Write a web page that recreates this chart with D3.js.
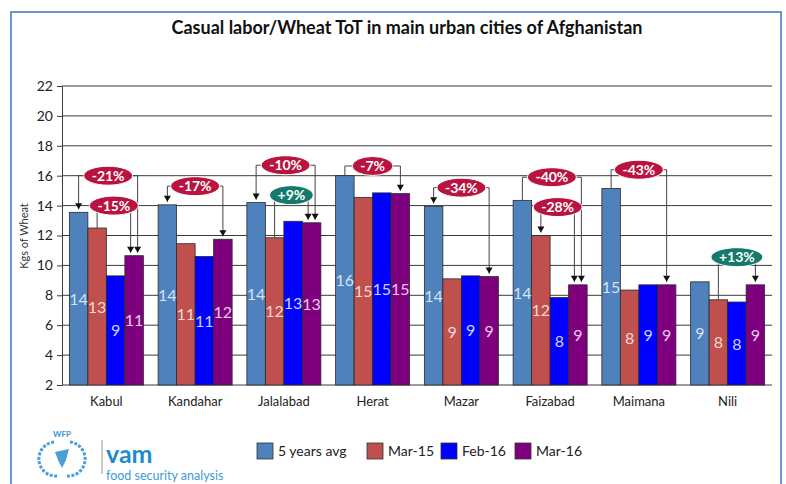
<!DOCTYPE html>
<html>
<head>
<meta charset="utf-8">
<script src="https://cdn.jsdelivr.net/npm/d3@7"></script>
<style>
  body { margin: 0; background: #fff; }
  svg { font-family: Lato, "Open Sans", sans-serif; }
</style>
</head>
<body>
<div id="chart-area"></div>
<script>
// values (kg of wheat per day of casual labour)
var cities = ["Kabul", "Kandahar", "Jalalabad", "Herat", "Mazar", "Faizabad", "Maimana", "Nili"];
var seriesNames = ["5 years avg", "Mar-15", "Feb-16", "Mar-16"];
var avg5  = [13.55, 14.05, 14.2, 16.0, 13.95, 14.35, 15.15, 8.9];
var mar15 = [12.5, 11.45, 11.85, 14.55, 9.1, 12.0, 8.35, 7.7];
var feb16 = [9.3, 10.6, 12.95, 14.85, 9.3, 7.85, 8.7, 7.55];
var mar16 = [10.65, 11.75, 12.85, 14.8, 9.25, 8.7, 8.7, 8.7];
var yTicks = [2, 4, 6, 8, 10, 12, 14, 16, 18, 20, 22];

// change call-outs: city, from series, to series, bracket level (kg), text
var noteCity  = [0, 0, 1, 2, 2, 3, 4, 5, 5, 6, 7];
var noteFrom  = [0, 1, 0, 0, 1, 0, 0, 0, 1, 0, 1];
var noteTo    = [3, 3, 3, 3, 3, 3, 3, 3, 3, 3, 3];
var noteLevel = [16, 14, 15.3, 16.7, 14.7, 16.65, 15.2, 15.9, 13.9, 16.4, 10.55];
var noteText  = ["-21%", "-15%", "-17%", "-10%", "+9%", "-7%", "-34%", "-40%", "-28%", "-43%", "+13%"];
var noteBothEnds = [true, false, true, true, false, false, true, false, true, false, false];

var series = [avg5, mar15, feb16, mar16];
var colors = ["#4f81bd", "#c0504d", "#0000ff", "#7f007f"];
var labelColors = ["#d3e2f5", "#f6d6d5", "#cdd6ff", "#e9c9ee"];

var svg = d3.select("#chart-area").append("svg")
  .attr("width", 786)
  .attr("height", 484);

// outer frame
svg.append("rect")
  .attr("x", 11).attr("y", 12)
  .attr("width", 770).attr("height", 490)
  .attr("fill", "none")
  .attr("stroke", "#6a93cf")
  .attr("stroke-width", 2);

svg.append("text")
  .attr("x", 407).attr("y", 34)
  .attr("text-anchor", "middle")
  .style("font-size", "18px")
  .style("font-weight", "bold")
  .attr("fill", "#111")
  .text("Casual labor/Wheat ToT in main urban cities of Afghanistan");

var pLeft = 62, pRight = 772, pTop = 86, pBottom = 385;

var y = d3.scaleLinear().domain([2, 22]).range([pBottom, pTop]);
var x0 = d3.scaleBand().domain(cities).range([pLeft, pRight])
  .paddingInner(0.166).paddingOuter(0.083);
var x1 = d3.scaleBand().domain(d3.range(4)).range([0, x0.bandwidth()]);

// grid
svg.append("g").selectAll("line").data(yTicks).enter()
  .append("line")
    .attr("x1", pLeft).attr("x2", pRight)
    .attr("y1", function(d) { return y(d); })
    .attr("y2", function(d) { return y(d); })
    .attr("stroke", "#3a3a3a")
    .attr("stroke-width", 1);

var yAxis = svg.append("g")
  .attr("transform", "translate(" + pLeft + ",0)")
  .call(d3.axisLeft(y).tickValues(yTicks).tickSize(5).tickPadding(4));
yAxis.select(".domain").attr("stroke", "#3a3a3a");
yAxis.selectAll(".tick line").attr("stroke", "#3a3a3a");
yAxis.selectAll("text")
  .style("font-size", "14px")
  .style("font-family", "Lato, sans-serif")
  .attr("fill", "#222");

svg.append("text")
  .attr("transform", "translate(28,236) rotate(-90)")
  .attr("text-anchor", "middle")
  .style("font-size", "11px")
  .attr("fill", "#333")
  .text("Kgs of Wheat");

var xAxis = svg.append("g")
  .attr("transform", "translate(0," + pBottom + ")")
  .call(d3.axisBottom(x0).tickSize(0).tickPadding(12));
xAxis.select(".domain").remove();
xAxis.selectAll("text")
  .style("font-size", "13px")
  .style("font-family", "Lato, sans-serif")
  .attr("fill", "#222");

// bars
var cells = [];
cities.forEach(function(c, i) {
  series.forEach(function(s, k) {
    cells.push({city: c, k: k, v: s[i]});
  });
});

svg.append("g").selectAll("rect").data(cells).enter()
  .append("rect")
    .attr("x", function(d) { return x0(d.city) + x1(d.k); })
    .attr("y", function(d) { return y(d.v); })
    .attr("width", x1.bandwidth())
    .attr("height", function(d) { return y(2) - y(d.v); })
    .attr("fill", function(d) { return colors[d.k]; })
    .attr("stroke", "#2a2a2a")
    .attr("stroke-width", 0.8);

svg.append("g").selectAll("text").data(cells).enter()
  .append("text")
    .attr("x", function(d) { return x0(d.city) + x1(d.k) + x1.bandwidth() / 2; })
    .attr("y", function(d) { return (y(d.v) + y(2)) / 2 + 6; })
    .attr("text-anchor", "middle")
    .style("font-size", "16px")
    .attr("fill", function(d) { return labelColors[d.k]; })
    .text(function(d) { return Math.round(d.v); });

// call-outs
var notes = noteText.map(function(t, i) {
  return {city: cities[noteCity[i]], ci: noteCity[i], from: noteFrom[i], to: noteTo[i],
          level: noteLevel[i], text: t, both: noteBothEnds[i]};
});
// spread the arrows when two brackets land on the same bar
notes.forEach(function(n) {
  var same = notes.filter(function(m) { return m.ci === n.ci && m.to === n.to; });
  n.shift = same.length > 1 ? (n.from === 0 ? 3.5 : -3.5) : 0;
});

var arrow = function(g, ax, ay) {
  g.append("path")
    .attr("d", "M" + (ax - 3.5) + "," + (ay - 6) + "L" + (ax + 3.5) + "," + (ay - 6) + "L" + ax + "," + ay + "Z")
    .attr("fill", "#111");
};

var ng = svg.append("g");
notes.forEach(function(n) {
  var i = n.ci;
  var xa = x0(n.city) + x1(n.from) + x1.bandwidth() / 2;
  var xb = x0(n.city) + x1(n.to) + x1.bandwidth() / 2 + n.shift;
  var ly = y(n.level);
  var ya = y(series[n.from][i]);
  var yb = y(series[n.to][i]);
  var g = ng.append("g");
  g.append("path")
    .attr("d", "M" + xa + "," + (n.both ? ya - 3 : ya) + "V" + ly + "H" + xb + "V" + (yb - 3))
    .attr("fill", "none")
    .attr("stroke", "#444")
    .attr("stroke-width", 1);
  if (n.both) arrow(g, xa, ya - 3);
  arrow(g, xb, yb - 3);

  var cx = (xa + xb) / 2;
  var t = g.append("text")
    .attr("x", cx).attr("y", ly + 5)
    .attr("text-anchor", "middle")
    .style("font-size", "14px")
    .style("font-weight", "bold")
    .attr("fill", "#fff")
    .text(n.text);
  var w = t.node().getComputedTextLength();
  g.insert("ellipse", "text")
    .attr("cx", cx).attr("cy", ly)
    .attr("rx", w / 2 + 8).attr("ry", 9.5)
    .attr("fill", n.text.charAt(0) === "+" ? "#157a6c" : "#b8143f")
    .attr("stroke", "#fff")
    .attr("stroke-width", 1);
});

// legend
var legX = [257, 367, 441, 515];
var leg = svg.append("g").selectAll("g").data(seriesNames).enter()
  .append("g")
    .attr("transform", function(d, i) { return "translate(" + legX[i] + ",443)"; });
leg.append("rect")
  .attr("width", 16).attr("height", 16)
  .attr("fill", function(d, i) { return colors[i]; })
  .attr("stroke", "#333")
  .attr("stroke-width", 0.8);
leg.append("text")
  .attr("x", 21).attr("y", 13)
  .style("font-size", "14px")
  .attr("fill", "#222")
  .text(function(d) { return d; });

// WFP / vam logo
var logo = svg.append("g");
logo.append("text")
  .attr("x", 62).attr("y", 437)
  .attr("text-anchor", "middle")
  .style("font-size", "8px")
  .style("font-weight", "bold")
  .attr("fill", "#3d95d4")
  .text("WFP");
logo.append("path")
  .attr("d", "M54,442 A16,16 0 0 0 58,476 M70,442 A16,16 0 0 1 66,476")
  .attr("fill", "none")
  .attr("stroke", "#4a9fd8")
  .attr("stroke-width", 3)
  .attr("stroke-dasharray", "3,1.5");
logo.append("path")
  .attr("d", "M55,452 L69,449 L66,460 L62,468 L58,460 Z")
  .attr("fill", "#4a9fd8");
logo.append("line")
  .attr("x1", 102).attr("x2", 102)
  .attr("y1", 440).attr("y2", 474)
  .attr("stroke", "#999");
logo.append("text")
  .attr("x", 106).attr("y", 463)
  .style("font-size", "25px")
  .style("font-weight", "bold")
  .attr("fill", "#1e8bd0")
  .text("vam");
logo.append("text")
  .attr("x", 106).attr("y", 480)
  .style("font-size", "12.5px")
  .attr("fill", "#3d9ad6")
  .text("food security analysis");
</script>
</body>
</html>
